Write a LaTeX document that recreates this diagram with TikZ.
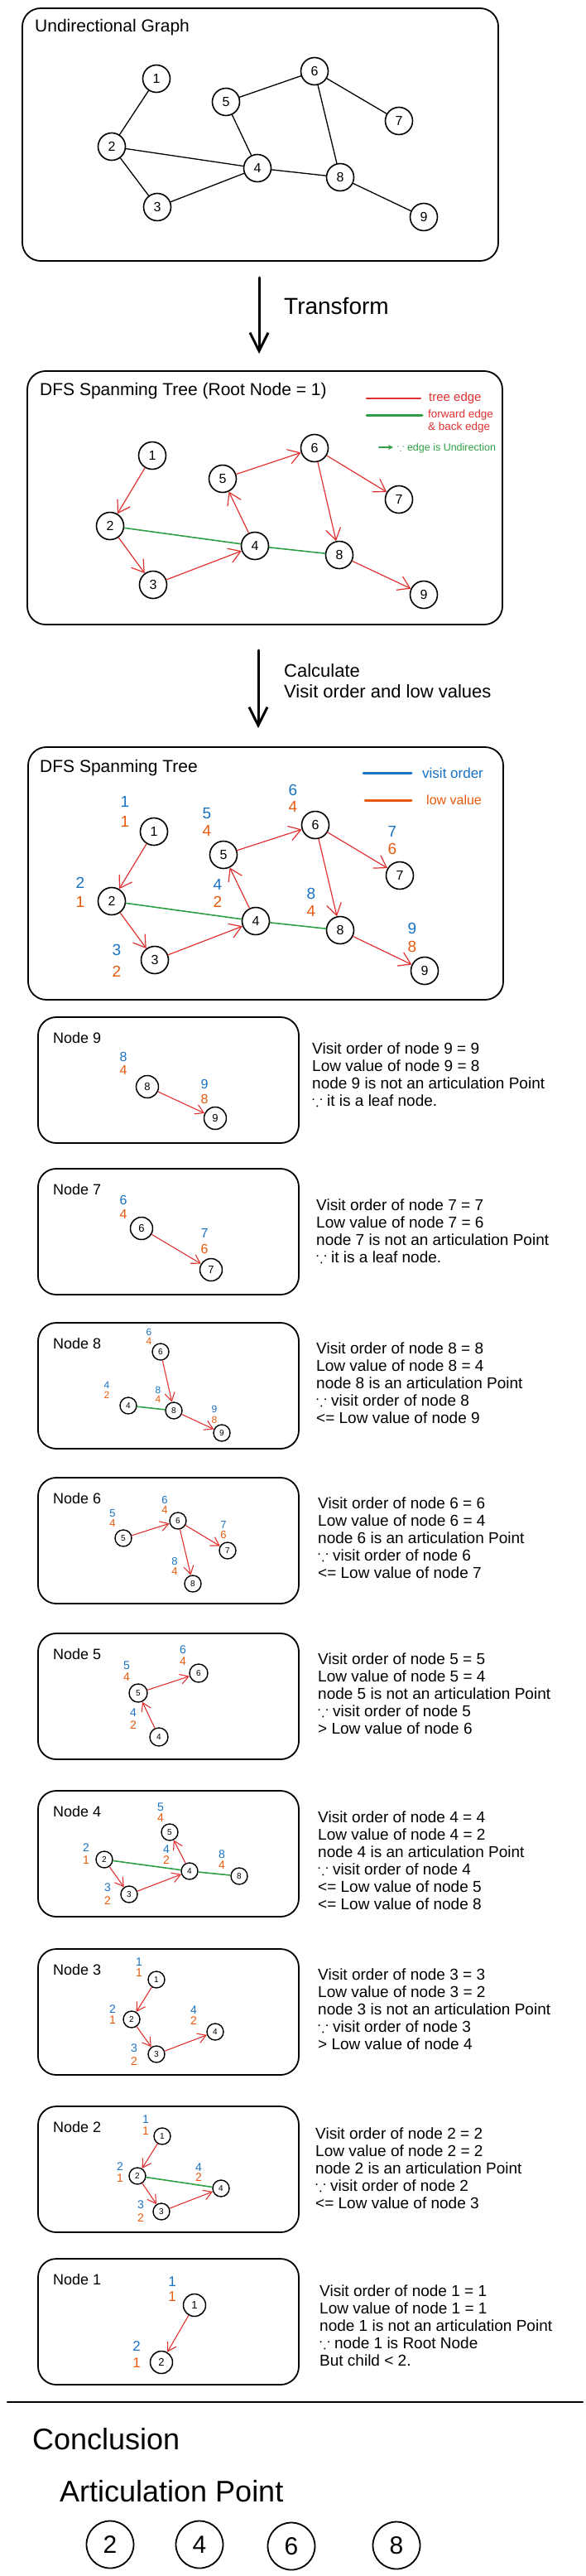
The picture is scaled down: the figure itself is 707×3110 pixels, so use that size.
\documentclass[tikz,border=0pt]{standalone}
\usepackage{fontspec}
\setmainfont{Liberation Sans}
\usepackage{amssymb}
\usetikzlibrary{arrows.meta, positioning}
\definecolor{treered}{HTML}{E03131}
\definecolor{backgreen}{HTML}{2F9E44}
\definecolor{visitblue}{HTML}{1971C2}
\definecolor{loworange}{HTML}{E8590C}
\newcommand{\fsz}[1]{\fontsize{#1}{#1}\selectfont}

\begin{document}
\begin{tikzpicture}[x=1pt, y=-1pt, line cap=round, line join=round,
    panel/.style={draw, line width=1.8pt, rounded corners=22pt},
    bigvtx/.style={draw, circle, line width=1.6pt, inner sep=0pt, minimum size=33pt, font=\fsz{16}},
    midvtx/.style={draw, circle, line width=1.5pt, inner sep=0pt, minimum size=27pt, font=\fsz{13}},
    smallvtx/.style={draw, circle, line width=1.4pt, inner sep=0pt, minimum size=20pt, font=\fsz{10}},
    plain/.style={line width=1.3pt},
    tedge/.style={draw=treered, line width=1.2pt, -{Straight Barb[length=14pt, width=18pt, line width=1.2pt]}},
    stedge/.style={draw=treered, line width=1.1pt, -{Straight Barb[length=10pt, width=12pt, line width=1.1pt]}},
    bedge/.style={draw=backgreen, line width=1.6pt},
    vis/.style={text=visitblue, inner sep=0pt, font=\fsz{#1}},
    low/.style={text=loworange, inner sep=0pt, font=\fsz{#1}},
    heading/.style={anchor=west, inner sep=0pt, font=\fsz{21}},
    title/.style={anchor=west, inner sep=0pt, font=\fsz{18}},
    note/.style={anchor=west, inner sep=0pt, align=left, font=\fontsize{19}{21}\selectfont},
    bigarrow/.style={line width=3pt, -{Straight Barb[length=22pt, width=22pt, line width=3pt]}}
]
    \useasboundingbox (0,0) rectangle (707,3110);

    % Undirectional graph (top panel)
    \draw[panel] (27,10) rectangle (602,315);
    \node[heading] (gtitle) at (42,33) {Undirectional Graph};
    \foreach \n/\x/\y in {1/189/95, 2/135/177, 3/190/250, 4/311/203, 5/273/123, 6/380/86, 7/482/146, 8/411/214, 9/512/262}
        \node[bigvtx] (g\n) at (\x,\y) {\n};
    \foreach \a/\b in {1/2, 2/3, 2/4, 3/4, 4/5, 5/6, 6/7, 6/8, 4/8, 8/9}
        \draw[plain] (g\a) -- (g\b);

    % Transform arrow
    \coordinate (tfA) at (313,335);
    \coordinate (tfB) at (313,427);
    \draw[bigarrow] (tfA) -- (tfB);
    \node[anchor=west, inner sep=0pt, font=\fsz{28}] (tflabel) at (343,370) {Transform};

    % DFS spanning tree (second panel)
    \draw[panel] (33,448) rectangle (607,754);
    \node[heading] (ttitle) at (48,472) {DFS Spanming Tree (Root Node = 1)};
    \coordinate (lgA) at (443,481); \coordinate (lgB) at (508,481);
    \draw[treered, line width=2.5pt] (lgA) -- (lgB);
    \node[anchor=west, inner sep=0pt, text=treered, font=\fsz{15}] (lgtree) at (518,481) {tree edge};
    \coordinate (lgC) at (443,501); \coordinate (lgD) at (510,501);
    \draw[backgreen, line width=3pt] (lgC) -- (lgD);
    \node[anchor=west, inner sep=0pt, text=treered, align=left, font=\fontsize{13.5}{15}\selectfont] (lgback) at (517,509) {forward edge\\\& back edge};
    \coordinate (lgE) at (458,540); \coordinate (lgF) at (475,540);
    \draw[backgreen, line width=2pt, -{Stealth[length=6pt, width=6pt]}] (lgE) -- (lgF);
    \node[anchor=west, inner sep=0pt, text=backgreen, font=\fsz{12.5}] (lgundir) at (480,541) {$\because$ edge is Undirection};
    \foreach \n/\x/\y in {1/184/550, 2/133/635, 3/185/706, 4/308/659, 5/269/578, 6/380/541, 7/482/603, 8/410/670, 9/512/718}
        \node[bigvtx] (t\n) at (\x,\y) {\n};
    \foreach \a/\b in {1/2, 2/3, 3/4, 4/5, 5/6, 6/7, 6/8, 8/9}
        \draw[tedge] (t\a) -- (t\b);
    \draw[bedge] (t2) -- (t4);
    \draw[bedge] (t4) -- (t8);

    % Calculate arrow
    \coordinate (clA) at (312,785);
    \coordinate (clB) at (312,879);
    \draw[bigarrow] (clA) -- (clB);
    \node[anchor=west, inner sep=0pt, align=left, font=\fontsize{22}{25}\selectfont] (cllabel) at (343,822) {Calculate\\Visit order and low values};

    % DFS spanning tree with visit order / low value (third panel)
    \draw[panel] (34,902) rectangle (608,1207);
    \node[heading] (vtitle) at (48,927) {DFS Spanming Tree};
    \coordinate (lvA) at (439,933); \coordinate (lvB) at (497,933);
    \draw[visitblue, line width=3pt] (lvA) -- (lvB);
    \node[anchor=west, inner sep=0pt, text=visitblue, font=\fsz{17}] (lvvisit) at (510,933) {visit order};
    \coordinate (lvC) at (441,966); \coordinate (lvD) at (497,966);
    \draw[loworange, line width=3pt] (lvC) -- (lvD);
    \node[anchor=west, inner sep=0pt, text=loworange, font=\fsz{16}] (lvlow) at (515,966) {low value};
    \foreach \n/\x/\y in {1/186/1004, 2/135/1088, 3/187/1159, 4/309/1112, 5/270/1032, 6/381/996, 7/483/1057, 8/411/1123, 9/513/1172}
        \node[bigvtx] (v\n) at (\x,\y) {\n};
    \foreach \n/\x/\u/\w/\b in {1/151/968/992/1, 2/97/1066/1089/1, 3/141/1147/1173/2, 4/263/1068/1089/2, 5/250/982/1003/4, 6/354/954/974/4, 7/474/1004/1025/6, 8/376/1079/1100/4, 9/498/1121/1143/8} {
        \node[vis=19] (vo\n) at (\x,\u) {\n};
        \node[low=19] (vl\n) at (\x,\w) {\b};
    }
    \foreach \a/\b in {1/2, 2/3, 3/4, 4/5, 5/6, 6/7, 6/8, 8/9}
        \draw[tedge] (v\a) -- (v\b);
    \draw[bedge] (v2) -- (v4);
    \draw[bedge] (v4) -- (v8);

    % Step panels
    \foreach \k/\y in {9/1228, 7/1411, 8/1597, 6/1784, 5/1972, 4/2162, 3/2353, 2/2543, 1/2727} {
        \draw[panel] (46,\y) rectangle ++(315,152);
        \node[title] (title\k) at (64,\y+25) {Node \k};
    }

    % Node 9
    \foreach \n/\x/\y in {8/178/1312, 9/260/1350}
        \node[midvtx] (p9n\n) at (\x,\y) {\n};
    \foreach \n/\x/\u/\w/\b in {8/149/1276/1292/4, 9/247/1309/1327/8} {
        \node[vis=16] (p9o\n) at (\x,\u) {\n};
        \node[low=16] (p9l\n) at (\x,\w) {\b};
    }
    \draw[stedge] (p9n8) -- (p9n9);
    \node[note] (expl9) at (377,1297) {Visit order of node 9 = 9\\Low value of node 9 = 8\\node 9 is not an articulation Point\\$\because$ it is a leaf node.};

    % Node 7
    \foreach \n/\x/\y in {6/171/1483, 7/255/1533}
        \node[midvtx] (p7n\n) at (\x,\y) {\n};
    \foreach \n/\x/\u/\w/\b in {6/149/1449/1466/4, 7/247/1489/1508/6} {
        \node[vis=16] (p7o\n) at (\x,\u) {\n};
        \node[low=16] (p7l\n) at (\x,\w) {\b};
    }
    \draw[stedge] (p7n6) -- (p7n7);
    \node[note] (expl7) at (382,1486) {Visit order of node 7 = 7\\Low value of node 7 = 6\\node 7 is not an articulation Point\\$\because$ it is a leaf node.};

    % Node 8
    \foreach \n/\x/\y in {6/194/1632, 4/155/1697, 8/210/1703, 9/268/1730}
        \node[smallvtx] (p8n\n) at (\x,\y) {\n};
    \foreach \n/\x/\u/\w/\b in {6/180/1608/1619/4, 4/129/1672/1684/2, 8/191/1678/1689/4, 9/259/1701/1714/8} {
        \node[vis=12] (p8o\n) at (\x,\u) {\n};
        \node[low=12] (p8l\n) at (\x,\w) {\b};
    }
    \draw[stedge] (p8n6) -- (p8n8);
    \draw[stedge] (p8n8) -- (p8n9);
    \draw[bedge] (p8n4) -- (p8n8);
    \node[note] (expl8) at (382,1670) {Visit order of node 8 = 8\\Low value of node 8 = 4\\node 8 is an articulation Point\\$\because$ visit order of node 8\\<= Low value of node 9};

    % Node 6
    \foreach \n/\x/\y in {5/149/1857, 6/215/1836, 7/275/1872, 8/233/1912}
        \node[smallvtx] (p6n\n) at (\x,\y) {\n};
    \foreach \n/\x/\u/\w/\b in {5/136/1827/1839/4, 6/199/1811/1823/4, 7/270/1841/1853/6, 8/211/1885/1897/4} {
        \node[vis=13] (p6o\n) at (\x,\u) {\n};
        \node[low=13] (p6l\n) at (\x,\w) {\b};
    }
    \draw[stedge] (p6n5) -- (p6n6);
    \draw[stedge] (p6n6) -- (p6n7);
    \draw[stedge] (p6n6) -- (p6n8);
    \node[note] (expl6) at (384,1857) {Visit order of node 6 = 6\\Low value of node 6 = 4\\node 6 is an articulation Point\\$\because$ visit order of node 6\\<= Low value of node 7};

    % Node 5
    \foreach \n/\x/\y in {6/240/2020, 5/167/2044, 4/192/2097}
        \node[smallvtx, minimum size=22pt] (p5n\n) at (\x,\y) {\n};
    \foreach \n/\x/\u/\w/\b in {6/221/1992/2006/4, 5/153/2011/2025/4, 4/161/2068/2083/2} {
        \node[vis=14] (p5o\n) at (\x,\u) {\n};
        \node[low=14] (p5l\n) at (\x,\w) {\b};
    }
    \draw[stedge] (p5n5) -- (p5n6);
    \draw[stedge] (p5n4) -- (p5n5);
    \node[note] (expl5) at (384,2045) {Visit order of node 5 = 5\\Low value of node 5 = 4\\node 5 is not an articulation Point\\$\because$ visit order of node 5\\> Low value of node 6};

    % Node 4
    \foreach \n/\x/\y in {5/205/2212, 2/126/2245, 4/229/2259, 8/289/2265, 3/156/2287}
        \node[smallvtx] (p4n\n) at (\x,\y) {\n};
    \foreach \n/\x/\u/\w/\b in {5/194/2182/2195/4, 2/104/2231/2246/1, 4/201/2233/2246/2, 8/268/2239/2252/4, 3/130/2279/2295/2} {
        \node[vis=14] (p4o\n) at (\x,\u) {\n};
        \node[low=14] (p4l\n) at (\x,\w) {\b};
    }
    \draw[stedge] (p4n2) -- (p4n3);
    \draw[stedge] (p4n3) -- (p4n4);
    \draw[stedge] (p4n4) -- (p4n5);
    \draw[bedge] (p4n2) -- (p4n4);
    \draw[bedge] (p4n4) -- (p4n8);
    \node[note] (expl4) at (384,2246) {Visit order of node 4 = 4\\Low value of node 4 = 2\\node 4 is an articulation Point\\$\because$ visit order of node 4\\<= Low value of node 5\\<= Low value of node 8};

    % Node 3
    \foreach \n/\x/\y in {1/189/2390, 2/159/2438, 3/189/2480, 4/260/2453}
        \node[smallvtx] (p3n\n) at (\x,\y) {\n};
    \foreach \n/\x/\u/\w/\b in {1/168/2369/2382/1, 2/136/2426/2439/1, 3/162/2473/2489/2, 4/234/2427/2440/2} {
        \node[vis=14] (p3o\n) at (\x,\u) {\n};
        \node[low=14] (p3l\n) at (\x,\w) {\b};
    }
    \draw[stedge] (p3n1) -- (p3n2);
    \draw[stedge] (p3n2) -- (p3n3);
    \draw[stedge] (p3n3) -- (p3n4);
    \node[note] (expl3) at (384,2426) {Visit order of node 3 = 3\\Low value of node 3 = 2\\node 3 is not an articulation Point\\$\because$ visit order of node 3\\> Low value of node 4};

    % Node 2
    \foreach \n/\x/\y in {1/196/2579, 2/166/2627, 3/195/2670, 4/267/2642}
        \node[smallvtx] (p2n\n) at (\x,\y) {\n};
    \foreach \n/\x/\u/\w/\b in {1/176/2559/2573/1, 2/145/2616/2630/1, 3/170/2662/2678/2, 4/240/2617/2629/2} {
        \node[vis=14] (p2o\n) at (\x,\u) {\n};
        \node[low=14] (p2l\n) at (\x,\w) {\b};
    }
    \draw[stedge] (p2n1) -- (p2n2);
    \draw[stedge] (p2n2) -- (p2n3);
    \draw[stedge] (p2n3) -- (p2n4);
    \draw[bedge] (p2n2) -- (p2n4);
    \node[note] (expl2) at (381,2618) {Visit order of node 2 = 2\\Low value of node 2 = 2\\node 2 is an articulation Point\\$\because$ visit order of node 2\\<= Low value of node 3};

    % Node 1
    \foreach \n/\x/\y in {1/235/2783, 2/195/2852}
        \node[midvtx] (p1n\n) at (\x,\y) {\n};
    \foreach \n/\x/\u/\w/\b in {1/208/2755/2773/1, 2/165/2833/2853/1} {
        \node[vis=17] (p1o\n) at (\x,\u) {\n};
        \node[low=17] (p1l\n) at (\x,\w) {\b};
    }
    \draw[stedge] (p1n1) -- (p1n2);
    \node[note] (expl1) at (386,2808) {Visit order of node 1 = 1\\Low value of node 1 = 1\\node 1 is not an articulation Point\\$\because$ node 1 is Root Node\\But child < 2.};

    % Conclusion
    \coordinate (sepA) at (9,2900); \coordinate (sepB) at (704,2900);
    \draw[line width=2.5pt] (sepA) -- (sepB);
    \node[anchor=west, inner sep=0pt, font=\fsz{36}] (concl) at (39,2945) {Conclusion};
    \node[anchor=west, inner sep=0pt, font=\fsz{36}] (artic) at (72,3008) {Articulation Point};
    \foreach \n/\x/\y in {2/133/3072, 4/241/3072, 6/352/3074, 8/479/3073}
        \node[draw, circle, line width=1.8pt, minimum size=57pt, inner sep=0pt, font=\fsz{30}] (ap\n) at (\x,\y) {\n};
\end{tikzpicture}
\end{document}
